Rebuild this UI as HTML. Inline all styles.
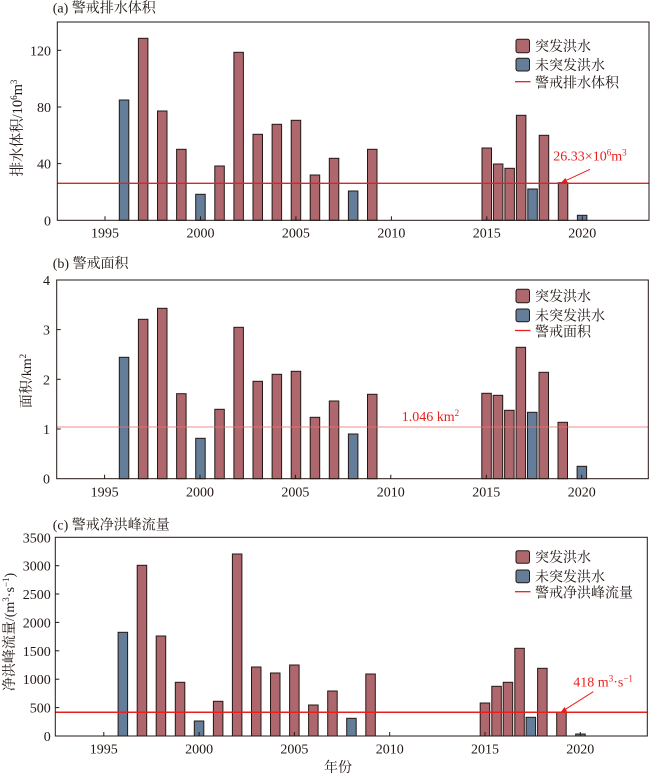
<!DOCTYPE html>
<html><head><meta charset="utf-8"><style>
html,body{margin:0;padding:0;background:#fff;}
svg{display:block;}
text{font-family:"Liberation Serif","Noto Serif CJK SC",serif;fill:#231815;}
</style></head><body>
<svg width="650" height="774" viewBox="0 0 650 774" xmlns="http://www.w3.org/2000/svg">
<g font-size="14">
<!-- ========== Panel A ========== -->
<text x="52.7" y="12.5">(a) 警戒排水体积</text>
<g stroke="#231815" stroke-width="1">
<rect x="119.3" y="100" width="9.5" height="120.3" fill="#647d99"/>
<rect x="138.4" y="38.3" width="9.5" height="182" fill="#ae676d"/>
<rect x="157.5" y="111" width="9.5" height="109.3" fill="#ae676d"/>
<rect x="176.6" y="149.3" width="9.5" height="71" fill="#ae676d"/>
<rect x="195.7" y="194.3" width="9.5" height="26" fill="#647d99"/>
<rect x="214.8" y="166" width="9.5" height="54.3" fill="#ae676d"/>
<rect x="233.9" y="52.3" width="9.5" height="168" fill="#ae676d"/>
<rect x="253" y="134.3" width="9.5" height="86" fill="#ae676d"/>
<rect x="272.1" y="124.3" width="9.5" height="96" fill="#ae676d"/>
<rect x="291.2" y="120.3" width="9.5" height="100" fill="#ae676d"/>
<rect x="310.2" y="175" width="9.5" height="45.3" fill="#ae676d"/>
<rect x="329.3" y="158.3" width="9.5" height="62" fill="#ae676d"/>
<rect x="348.4" y="191" width="9.5" height="29.3" fill="#647d99"/>
<rect x="367.5" y="149.3" width="9.5" height="71" fill="#ae676d"/>
<rect x="482.0" y="148" width="9.5" height="72.3" fill="#ae676d"/>
<rect x="493.4" y="164" width="9.5" height="56.3" fill="#ae676d"/>
<rect x="504.9" y="168.3" width="9.5" height="52" fill="#ae676d"/>
<rect x="516.4" y="115.3" width="9.5" height="105" fill="#ae676d"/>
<rect x="527.8" y="189" width="9.5" height="31.3" fill="#647d99"/>
<rect x="539.2" y="135.3" width="9.5" height="85" fill="#ae676d"/>
<rect x="558.3" y="182.7" width="9.5" height="37.6" fill="#ae676d"/>
<rect x="577.4" y="215.3" width="9.5" height="5" fill="#647d99"/>
</g>
<line x1="57.3" y1="183.3" x2="649" y2="183.3" stroke="#e8201c" stroke-width="1.3"/>
<rect x="57.3" y="22" width="591.7" height="198.3" fill="none" stroke="#231815" stroke-width="1"/>
<g stroke="#231815" stroke-width="1">
<line x1="105" y1="220.3" x2="105" y2="216.3"/>
<line x1="200.5" y1="220.3" x2="200.5" y2="216.3"/>
<line x1="295.9" y1="220.3" x2="295.9" y2="216.3"/>
<line x1="391.4" y1="220.3" x2="391.4" y2="216.3"/>
<line x1="486.8" y1="220.3" x2="486.8" y2="216.3"/>
<line x1="582.3" y1="220.3" x2="582.3" y2="216.3"/>
<line x1="57.3" y1="163.6" x2="61.3" y2="163.6"/>
<line x1="57.3" y1="107" x2="61.3" y2="107"/>
<line x1="57.3" y1="50.3" x2="61.3" y2="50.3"/>
</g>
<g text-anchor="end">
<text x="51" y="225.3">0</text>
<text x="51" y="168.6">40</text>
<text x="51" y="112">80</text>
<text x="51" y="55.3">120</text>
</g>
<g text-anchor="middle">
<text x="105" y="237.5">1995</text>
<text x="200.5" y="237.5">2000</text>
<text x="295.9" y="237.5">2005</text>
<text x="391.4" y="237.5">2010</text>
<text x="486.8" y="237.5">2015</text>
<text x="582.3" y="237.5">2020</text>
</g>
<text transform="translate(22,128) rotate(-90)" text-anchor="middle" font-size="14.5">排水体积/10<tspan font-size="9" dy="-5">6</tspan><tspan dy="5">m</tspan><tspan font-size="9" dy="-5">3</tspan></text>
<!-- legend a -->
<rect x="516" y="39.3" width="13.5" height="13.4" rx="2" fill="#ae676d" stroke="#231815"/>
<rect x="516" y="58.3" width="13.5" height="12.7" rx="2" fill="#647d99" stroke="#231815"/>
<line x1="515" y1="81.7" x2="530.5" y2="81.7" stroke="#e8201c" stroke-width="1.3"/>
<text x="535" y="51">突发洪水</text>
<text x="535" y="70">未突发洪水</text>
<text x="535" y="87.5">警戒排水体积</text>
<!-- annotation a -->
<text x="553.3" y="160.7" fill="#e8201c" style="fill:#e8201c">26.33×10<tspan font-size="9" dy="-5">6</tspan><tspan dy="5">m</tspan><tspan font-size="9" dy="-5">3</tspan></text>
<line x1="590" y1="169.3" x2="565" y2="180.9" stroke="#e8201c" stroke-width="1"/>
<polygon points="561,182.7 567.5,182.45 565.4,177.9" fill="#e8201c"/>

<!-- ========== Panel B ========== -->
<text x="52.7" y="268">(b) 警戒面积</text>
<g stroke="#231815" stroke-width="1">
<rect x="119.3" y="357.3" width="9.5" height="121.4" fill="#647d99"/>
<rect x="138.4" y="319.3" width="9.5" height="159.4" fill="#ae676d"/>
<rect x="157.5" y="308.3" width="9.5" height="170.4" fill="#ae676d"/>
<rect x="176.6" y="393.7" width="9.5" height="85" fill="#ae676d"/>
<rect x="195.7" y="438.3" width="9.5" height="40.4" fill="#647d99"/>
<rect x="214.8" y="409.3" width="9.5" height="69.4" fill="#ae676d"/>
<rect x="233.9" y="327.3" width="9.5" height="151.4" fill="#ae676d"/>
<rect x="253" y="381.3" width="9.5" height="97.4" fill="#ae676d"/>
<rect x="272.1" y="374.3" width="9.5" height="104.4" fill="#ae676d"/>
<rect x="291.2" y="371.3" width="9.5" height="107.4" fill="#ae676d"/>
<rect x="310.2" y="417.3" width="9.5" height="61.4" fill="#ae676d"/>
<rect x="329.3" y="401" width="9.5" height="77.7" fill="#ae676d"/>
<rect x="348.4" y="434" width="9.5" height="44.7" fill="#647d99"/>
<rect x="367.5" y="394.3" width="9.5" height="84.4" fill="#ae676d"/>
<rect x="481.8" y="393.3" width="9.5" height="85.4" fill="#ae676d"/>
<rect x="493.2" y="395.3" width="9.5" height="83.4" fill="#ae676d"/>
<rect x="504.6" y="410.3" width="9.5" height="68.4" fill="#ae676d"/>
<rect x="516.1" y="347.3" width="9.5" height="131.4" fill="#ae676d"/>
<rect x="527.5" y="412.3" width="9.5" height="66.4" fill="#647d99"/>
<rect x="539" y="372.3" width="9.5" height="106.4" fill="#ae676d"/>
<rect x="558" y="422.3" width="9.5" height="56.4" fill="#ae676d"/>
<rect x="577.1" y="466.3" width="9.5" height="12.4" fill="#647d99"/>
</g>
<line x1="56.7" y1="427" x2="648.3" y2="427" stroke="#f07070" stroke-opacity="0.4" stroke-width="2"/>
<rect x="56.7" y="280" width="591.6" height="198.7" fill="none" stroke="#231815" stroke-width="1"/>
<g stroke="#231815" stroke-width="1">
<line x1="104.6" y1="478.7" x2="104.6" y2="474.7"/>
<line x1="200" y1="478.7" x2="200" y2="474.7"/>
<line x1="295.4" y1="478.7" x2="295.4" y2="474.7"/>
<line x1="390.8" y1="478.7" x2="390.8" y2="474.7"/>
<line x1="486.3" y1="478.7" x2="486.3" y2="474.7"/>
<line x1="581.7" y1="478.7" x2="581.7" y2="474.7"/>
<line x1="56.7" y1="429" x2="60.7" y2="429"/>
<line x1="56.7" y1="379.3" x2="60.7" y2="379.3"/>
<line x1="56.7" y1="329.6" x2="60.7" y2="329.6"/>
</g>
<g text-anchor="end">
<text x="50" y="483.7">0</text>
<text x="50" y="434">1</text>
<text x="50" y="384.3">2</text>
<text x="50" y="334.6">3</text>
<text x="50" y="285">4</text>
</g>
<g text-anchor="middle">
<text x="104.6" y="496.3">1995</text>
<text x="200" y="496.3">2000</text>
<text x="295.4" y="496.3">2005</text>
<text x="390.8" y="496.3">2010</text>
<text x="486.3" y="496.3">2015</text>
<text x="581.7" y="496.3">2020</text>
</g>
<text transform="translate(31,381) rotate(-90)" text-anchor="middle">面积/km<tspan font-size="9" dy="-5">2</tspan></text>
<rect x="516" y="289.3" width="13.5" height="13.4" rx="2" fill="#ae676d" stroke="#231815"/>
<rect x="516" y="309" width="13.5" height="12.7" rx="2" fill="#647d99" stroke="#231815"/>
<line x1="515" y1="330.5" x2="530.5" y2="330.5" stroke="#e8201c" stroke-width="1.3"/>
<text x="535" y="301">突发洪水</text>
<text x="535" y="320.5">未突发洪水</text>
<text x="535" y="336.5">警戒面积</text>
<text x="401.7" y="421" style="fill:#e8201c">1.046 km<tspan font-size="9" dy="-5">2</tspan></text>

<!-- ========== Panel C ========== -->
<text x="52.7" y="529.5">(c) 警戒净洪峰流量</text>
<g stroke="#231815" stroke-width="1">
<rect x="118.1" y="632.3" width="9.5" height="103.7" fill="#647d99"/>
<rect x="137.2" y="565.3" width="9.5" height="170.7" fill="#ae676d"/>
<rect x="156.2" y="636" width="9.5" height="100" fill="#ae676d"/>
<rect x="175.3" y="682.3" width="9.5" height="53.7" fill="#ae676d"/>
<rect x="194.3" y="721" width="9.5" height="15" fill="#647d99"/>
<rect x="213.4" y="701.3" width="9.5" height="34.7" fill="#ae676d"/>
<rect x="232.4" y="554" width="9.5" height="182" fill="#ae676d"/>
<rect x="251.5" y="667" width="9.5" height="69" fill="#ae676d"/>
<rect x="270.5" y="673" width="9.5" height="63" fill="#ae676d"/>
<rect x="289.6" y="665" width="9.5" height="71" fill="#ae676d"/>
<rect x="308.6" y="705" width="9.5" height="31" fill="#ae676d"/>
<rect x="327.7" y="691" width="9.5" height="45" fill="#ae676d"/>
<rect x="346.7" y="718.3" width="9.5" height="17.7" fill="#647d99"/>
<rect x="365.8" y="674" width="9.5" height="62" fill="#ae676d"/>
<rect x="480.2" y="703" width="9.5" height="33" fill="#ae676d"/>
<rect x="491.8" y="686.3" width="9.5" height="49.7" fill="#ae676d"/>
<rect x="503.2" y="682.3" width="9.5" height="53.7" fill="#ae676d"/>
<rect x="514.8" y="648.3" width="9.5" height="87.7" fill="#ae676d"/>
<rect x="526.1" y="717.3" width="9.5" height="18.7" fill="#647d99"/>
<rect x="537.6" y="668.3" width="9.5" height="67.7" fill="#ae676d"/>
<rect x="556.7" y="712" width="9.5" height="24" fill="#ae676d"/>
<rect x="575.7" y="734" width="9.5" height="2" fill="#647d99"/>
</g>
<line x1="55.3" y1="712.3" x2="647.3" y2="712.3" stroke="#e8201c" stroke-width="1.5"/>
<rect x="55.3" y="537.3" width="592" height="198.7" fill="none" stroke="#231815" stroke-width="1"/>
<g stroke="#231815" stroke-width="1">
<line x1="103.8" y1="736" x2="103.8" y2="732"/>
<line x1="199.1" y1="736" x2="199.1" y2="732"/>
<line x1="294.4" y1="736" x2="294.4" y2="732"/>
<line x1="389.7" y1="736" x2="389.7" y2="732"/>
<line x1="485" y1="736" x2="485" y2="732"/>
<line x1="580.3" y1="736" x2="580.3" y2="732"/>
<line x1="55.3" y1="707.6" x2="59.3" y2="707.6"/>
<line x1="55.3" y1="679.2" x2="59.3" y2="679.2"/>
<line x1="55.3" y1="650.8" x2="59.3" y2="650.8"/>
<line x1="55.3" y1="622.4" x2="59.3" y2="622.4"/>
<line x1="55.3" y1="594" x2="59.3" y2="594"/>
<line x1="55.3" y1="565.7" x2="59.3" y2="565.7"/>
</g>
<g text-anchor="end">
<text x="50.7" y="741">0</text>
<text x="50.7" y="712.6">500</text>
<text x="50.7" y="684.2">1000</text>
<text x="50.7" y="655.8">1500</text>
<text x="50.7" y="627.4">2000</text>
<text x="50.7" y="599">2500</text>
<text x="50.7" y="570.7">3000</text>
<text x="50.7" y="542.3">3500</text>
</g>
<g text-anchor="middle">
<text x="103.8" y="753.5">1995</text>
<text x="199.1" y="753.5">2000</text>
<text x="294.4" y="753.5">2005</text>
<text x="389.7" y="753.5">2010</text>
<text x="485" y="753.5">2015</text>
<text x="580.3" y="753.5">2020</text>
</g>
<text x="338" y="772" text-anchor="middle">年份</text>
<text transform="translate(14,632) rotate(-90)" text-anchor="middle">净洪峰流量/(m<tspan font-size="9" dy="-5">3</tspan><tspan dy="5">·s</tspan><tspan font-size="9" dy="-5">−1</tspan><tspan dy="5">)</tspan></text>
<rect x="516" y="550.7" width="13.5" height="12.6" rx="2" fill="#ae676d" stroke="#231815"/>
<rect x="516" y="570" width="13.5" height="12.7" rx="2" fill="#647d99" stroke="#231815"/>
<line x1="515" y1="591.7" x2="530.5" y2="591.7" stroke="#e8201c" stroke-width="1.3"/>
<text x="535" y="562">突发洪水</text>
<text x="535" y="581.5">未突发洪水</text>
<text x="535" y="597.5">警戒净洪峰流量</text>
<text x="573.3" y="686.7" style="fill:#e8201c">418 m<tspan font-size="9" dy="-5">3</tspan><tspan dy="5">·s</tspan><tspan font-size="9" dy="-5">−1</tspan></text>
<line x1="593.3" y1="691.7" x2="565" y2="709.6" stroke="#e8201c" stroke-width="1"/>
<polygon points="560.7,712.3 567.1,711.2 564.5,707" fill="#e8201c"/>
</g>
</svg>
</body></html>
